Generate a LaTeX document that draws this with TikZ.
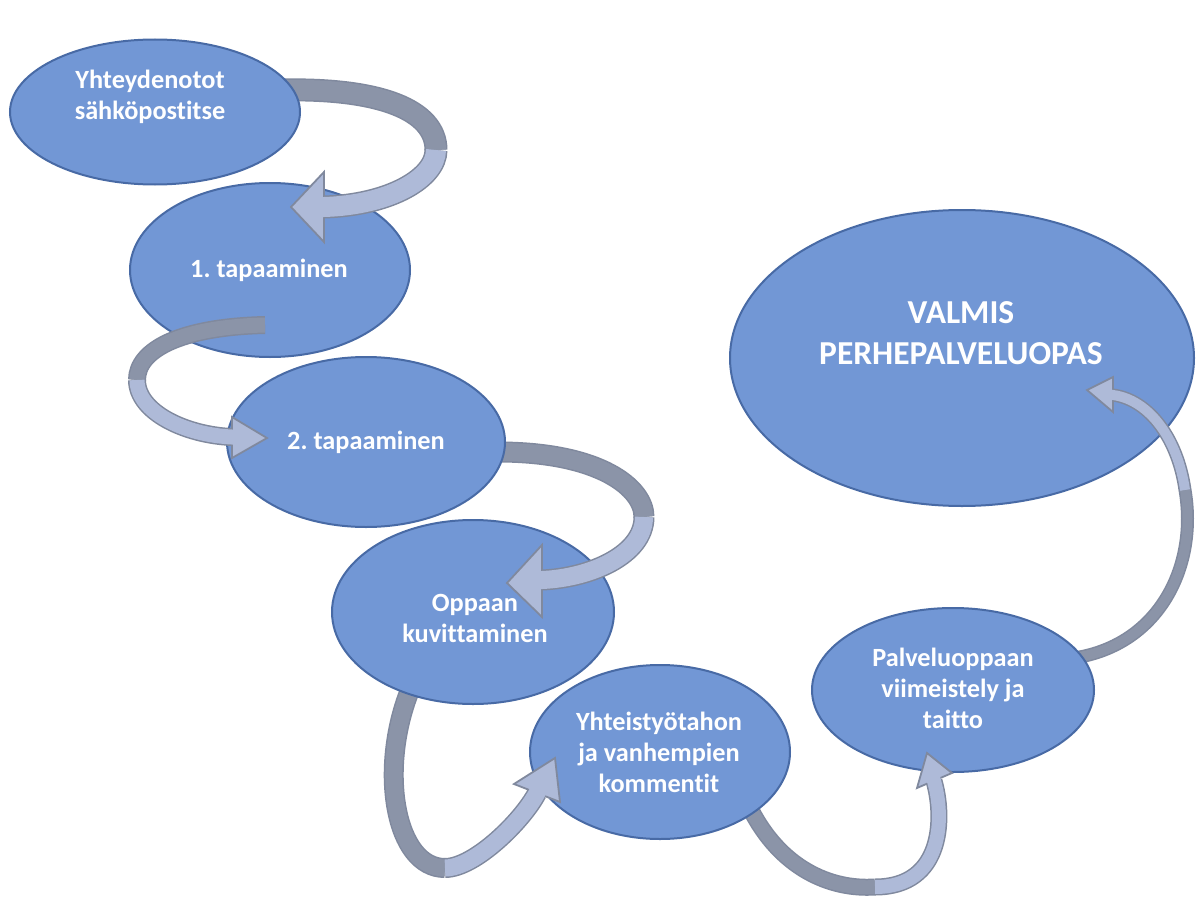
\documentclass[tikz,border=0pt]{standalone}
\usepackage{fontspec}
\setmainfont{Carlito}[Ligatures={NoCommon,NoContextual}]
\usetikzlibrary{shapes.geometric}
\definecolor{ellfill}{RGB}{114,151,213}
\definecolor{ellline}{RGB}{72,106,165}
\definecolor{arrdark}{RGB}{139,148,168}
\definecolor{arrlight}{RGB}{174,186,216}
\definecolor{arrline}{RGB}{128,137,158}
\tikzset{
  ell/.style={ellipse, fill=ellfill, draw=ellline, line width=2pt, inner sep=0pt, outer sep=0pt},
  lbl/.style={text=white, align=center, font=\bfseries\fontsize{26.3}{31}\selectfont, inner sep=0pt},
  biglbl/.style={text=white, align=center, font=\bfseries\fontsize{33.5}{41}\selectfont, inner sep=0pt},
  headshape/.style={fill=arrlight, draw=arrline, line width=1.8pt, line join=miter},
}
% #1 shaft width, #2 shaft+border width, #3 back (dark) part, #4 front (light) part,
% #5 point just inside head, #6 barb, #7 tip, #8 barb
\newcommand{\ribbonarrow}[8]{%
  \draw[line width=#2, arrline] #3;
  \draw[line width=#1, arrdark] #3;
  \draw[line width=#2, arrline] #4;
  \draw[headshape] #6 -- #7 -- #8 -- cycle;
  \draw[line width=#1, arrlight] #4 -- #5;
}
\frenchspacing
\begin{document}
\begin{tikzpicture}[x=1pt,y=-1pt]
\useasboundingbox (0,0) rectangle (1200,899);
\fill[white] (0,0) rectangle (1200,899);

\node[ell, minimum width=464, minimum height=296] (e7) at (962,358) {};
\ribbonarrow{10}{13}
  {(1074,658) .. controls (1160,645) and (1198,565) .. (1185,490)}
  {(1185,490) .. controls (1178,440) and (1150,400) .. (1113,395)}
  {(1108,394)}{(1113,377)}{(1087,390)}{(1113,412)}
\node[ell, minimum width=282, minimum height=164] (e6) at (953,690) {};
\ribbonarrow{14}{17}
  {(750,808) .. controls (780,868) and (830,890) .. (875,887)}
  {(875,887) .. controls (945,887) and (944,815) .. (934,781)}
  {(932.7,776)}{(917,788)}{(927,753)}{(952,773)}
\node[ell, minimum width=260, minimum height=174] (e5) at (660,752) {};
\ribbonarrow{17}{20}
  {(410,690) .. controls (378,770) and (395,868) .. (445,868)}
  {(445,868) .. controls (475,868) and (523,820) .. (537,793)}
  {(539.5,788.5)}{(514,784)}{(555,758)}{(560,802)}
\node[ell, minimum width=282, minimum height=184] (e4) at (473,612) {};
\ribbonarrow{18}{21}
  {(498,452) .. controls (600,452) and (644,488) .. (644,517)}
  {(644,517) .. controls (644,555) and (590,578) .. (542,580)}
  {(537,580.5)}{(542,545)}{(507,583)}{(542,617)}
\node[ell, minimum width=278, minimum height=170] (e3) at (366,442) {};
\node[ell, minimum width=280, minimum height=174] (e2) at (270,270) {};
\ribbonarrow{15}{18}
  {(265,325) .. controls (180,327) and (137,350) .. (137,380)}
  {(137,380) .. controls (137,412) and (185,435) .. (232,437)}
  {(237,437)}{(232,417)}{(267,438)}{(232,458)}
\ribbonarrow{20}{23}
  {(282,90) .. controls (380,88) and (436,110) .. (436,150)}
  {(436,150) .. controls (436,178) and (390,205) .. (324,207)}
  {(318,207)}{(324,172)}{(291,207)}{(324,242)}
\node[ell, minimum width=290, minimum height=145] (e1) at (155,112) {};

\node[lbl] (t1) at (150,97) {Yhteydenotot\\sähköpostitse};
\node[lbl] (t2) at (269,270) {1. tapaaminen};
\node[lbl] (t3) at (366,442) {2. tapaaminen};
\node[lbl] (t4) at (475,618) {Oppaan\\kuvittaminen};
\node[lbl] (t5) at (659,752) {Yhteistyötahon\\ja vanhempien\\kommentit};
\node[lbl] (t6) at (953,688) {Palveluoppaan\\viimeistely ja\\taitto};
\node[biglbl] (t7) at (961,333) {VALMIS\\PERHEPALVELUOPAS};
\end{tikzpicture}
\end{document}
